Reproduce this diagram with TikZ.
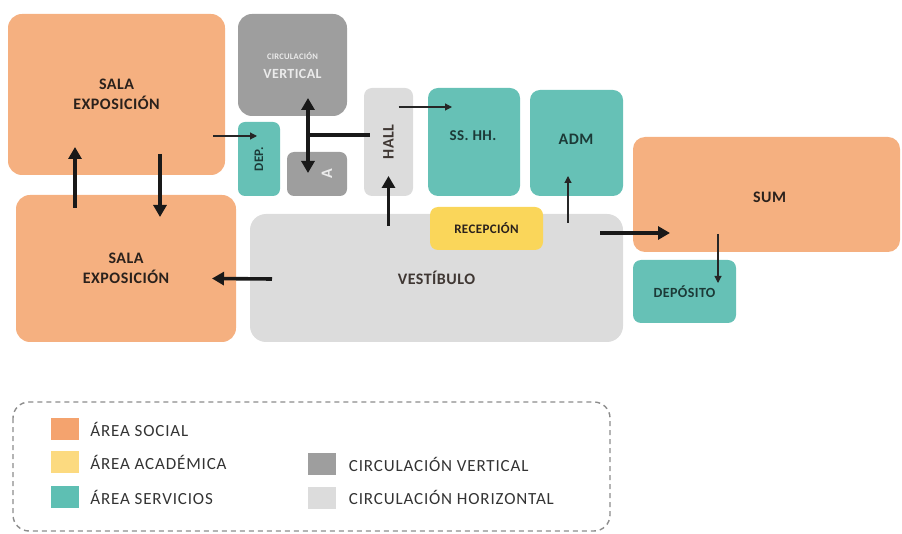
\documentclass[tikz,border=0pt]{standalone}
\usepackage{fontspec}
\setmainfont{Carlito}
\newfontfamily\roomfont[LetterSpace=3]{Carlito}
\newfontfamily\keyfont[LetterSpace=5]{Carlito}
\usetikzlibrary{arrows.meta,calc,positioning}
\definecolor{socialC}{HTML}{F5B080}
\definecolor{academicC}{HTML}{FAD65A}
\definecolor{serviceC}{HTML}{66C1B6}
\definecolor{vertC}{HTML}{9E9E9E}
\definecolor{horizC}{HTML}{DCDCDC}
\definecolor{keySocialC}{HTML}{F4A36E}
\definecolor{keyAcademicC}{HTML}{FCDA80}
\definecolor{keyServiceC}{HTML}{5EBFB3}
\definecolor{inkC}{HTML}{2A211C}
\definecolor{tealInkC}{HTML}{1C3A37}
\definecolor{keyInkC}{HTML}{333333}
\tikzset{
    room/.style={rounded corners=14pt, inner sep=0pt, outer sep=0pt,
        align=center, text=inkC,
        font=\roomfont\bfseries\fontsize{16}{20}\selectfont},
    social/.style={room, fill=socialC},
    academic/.style={room, fill=academicC, rounded corners=8pt,
        font=\roomfont\bfseries\fontsize{13}{15}\selectfont},
    service/.style={room, fill=serviceC, text=tealInkC, rounded corners=10pt},
    vertical/.style={room, fill=vertC, text=white!92!black},
    horizontal/.style={room, fill=horizC, text=inkC!90},
    bigflow/.style={line width=3.6pt, draw=black!90,
        -{Triangle[length=12pt,width=13pt]}},
    bigline/.style={line width=3.6pt, draw=black!90},
    smallflow/.style={line width=1.1pt, draw=black!85,
        -{Triangle[length=7pt,width=7pt]}},
    keysq/.style={minimum width=28pt, minimum height=22pt, inner sep=0pt},
    keytext/.style={inner sep=0pt, anchor=west, text=keyInkC,
        font=\keyfont\fontsize{17}{19}\selectfont}
}

\begin{document}
\begin{tikzpicture}[x=1pt, y=-1pt]
    \useasboundingbox (0,0) rectangle (902,534);

    % =========================================================================
    % ROOMS
    % =========================================================================
    \node[social, minimum width=217pt, minimum height=161pt] (salaA) at (116.5,94.5) {SALA\\EXPOSICIÓN};
    \node[social, minimum width=220pt, minimum height=147pt] (salaB) at (126,268.5) {SALA\\EXPOSICIÓN};

    \node[vertical, minimum width=109pt, minimum height=102pt] (circV) at (292.5,65)
        {{\fontsize{8.5}{10}\selectfont CIRCULACIÓN}\\[-1pt]{\fontsize{14}{16}\selectfont VERTICAL}};
    \node[service, minimum width=42pt, minimum height=74pt, rounded corners=7pt,
        font=\roomfont\bfseries\fontsize{13}{15}\selectfont] (dep) at (259,159) {\rotatebox{90}{DEP.}};
    \node[vertical, minimum width=60pt, minimum height=44pt, rounded corners=7pt] (asc) at (317,174) {};
    \node[text=white!92!black, font=\roomfont\bfseries\fontsize{16}{18}\selectfont]
        at ($(asc)+(10,0)$) {\rotatebox{90}{A}};

    \node[horizontal, minimum width=49pt, minimum height=108pt, rounded corners=8pt] (hall) at (388.5,142) {\rotatebox{90}{HALL}};
    \node[service, minimum width=92pt, minimum height=108pt] (sshh) at (474,142) {};
    \node[tealInkC, font=\roomfont\bfseries\fontsize{15}{17}\selectfont] at (473,136) {SS. HH.};
    \node[service, minimum width=93pt, minimum height=106pt] (adm) at (576.5,143) {};
    \node[tealInkC, font=\roomfont\bfseries\fontsize{16}{18}\selectfont] at (576,139) {ADM};

    \node[horizontal, minimum width=373pt, minimum height=128pt, rounded corners=16pt] (vest) at (436.5,278) {VESTÍBULO};
    \node[academic, minimum width=113pt, minimum height=43pt] (recep) at (486.5,228.5) {RECEPCIÓN};

    \node[social, minimum width=267pt, minimum height=115pt, rounded corners=12pt] (sum) at (766.5,194.5) {};
    \node[inkC, font=\roomfont\bfseries\fontsize{16}{18}\selectfont] at ($(sum)+(3,3)$) {SUM};
    \node[service, minimum width=103pt, minimum height=63pt, rounded corners=8pt,
        font=\roomfont\bfseries\fontsize{14}{16}\selectfont] (depo) at (684.5,291.5) {DEPÓSITO};

    % =========================================================================
    % FLOWS
    % =========================================================================
    \draw[bigflow] ($(salaB.north west)+(59,13)$) -- ($(salaA.south west)+(67,-28)$);
    \draw[bigflow] ($(salaA.south west)+(152,-21)$) -- ($(salaB.north west)+(144,22)$);
    \draw[smallflow] ($(salaA.south east)+(-12,-39)$) -- ($(dep.north west)+(19,14)$);
    \draw[bigflow] ($(vest.west)+(22,1)$) -- ($(salaB.east)+(-24,10)$);

    % vertical circulation and hall
    \coordinate (junc) at ($(circV.south west)+(70,19)$);
    \draw[line width=3.6pt, draw=black!90,
        {Triangle[length=12pt,width=13pt]}-{Triangle[length=12pt,width=13pt]}]
        ($(circV.south west)+(70,-18)$) -- ($(asc.north west)+(21,21)$);
    \draw[bigline] (junc) -- ($(hall.west |- junc)+(6,0)$);
    \draw[bigflow] ($(vest.north -| hall.south)+(0,12)$) -- ($(hall.south)+(0,-20)$);
    \draw[smallflow] ($(hall.north)+(10,19)$) -- ($(sshh.north west)+(24,19)$);

    % from the lobby
    \draw[smallflow] ($(vest.north east)+(-55,9)$) -- ($(adm.south)+(-8.5,-20)$);
    \draw[bigflow] ($(vest.north east)+(-23,19)$) -- ($(sum.south west)+(37,-19)$);
    \draw[smallflow] ($(sum.south west)+(85,-18)$) -- ($(depo.north west)+(85,23)$);

    % =========================================================================
    % LEGEND
    % =========================================================================
    \draw[draw=black!45, line width=1.4pt, dash pattern=on 5pt off 4pt, rounded corners=16pt]
        (13,402) rectangle (610,531);

    \node[keysq, fill=keySocialC] (kSocial) at (65,429) {};
    \node[keytext, right=11pt of kSocial] (tSocial) {ÁREA SOCIAL};
    \node[keysq, fill=keyAcademicC] (kAcademic) at (65,462) {};
    \node[keytext, right=11pt of kAcademic] (tAcademic) {ÁREA ACADÉMICA};
    \node[keysq, fill=keyServiceC] (kService) at (65,497) {};
    \node[keytext, right=11pt of kService] (tService) {ÁREA SERVICIOS};

    \node[keysq, fill=vertC] (kVert) at (321.5,464) {};
    \node[keytext, right=13pt of kVert] (tVert) {CIRCULACIÓN VERTICAL};
    \node[keysq, fill=horizC] (kHoriz) at (321.5,497.5) {};
    \node[keytext, right=13pt of kHoriz] (tHoriz) {CIRCULACIÓN HORIZONTAL};
\end{tikzpicture}
\end{document}
